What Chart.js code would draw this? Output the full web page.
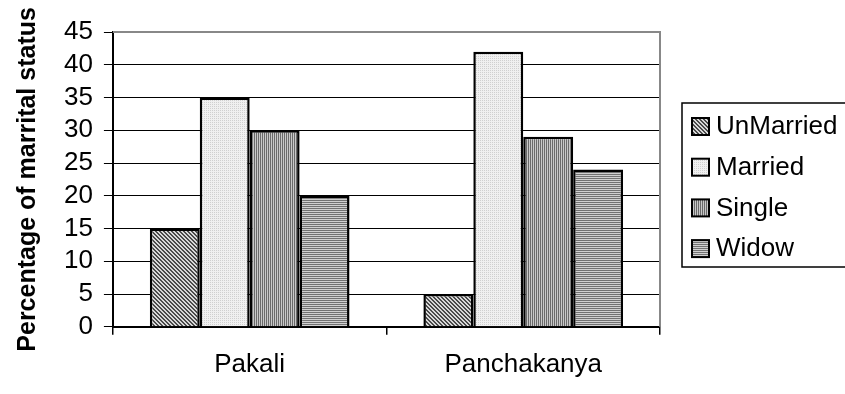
<!DOCTYPE html>
<html>
<head>
<meta charset="utf-8">
<script src="https://cdn.jsdelivr.net/npm/chart.js@4.4.0/dist/chart.umd.min.js"></script>
<style>
  html, body { margin: 0; padding: 0; background: #fff; }
  #wrap { width: 845px; height: 394px; }
</style>
</head>
<body>
<div id="wrap"><canvas id="myChart"></canvas></div>
<script>
// data
const places = ['Pakali', 'Panchakanya'];
const unmarried = [15, 5];
const married = [35, 42];
const single = [30, 29];
const widow = [20, 24];
const seriesNames = ['UnMarried', 'Married', 'Single', 'Widow'];
const yTicks = [0, 5, 10, 15, 20, 25, 30, 35, 40, 45];

const FONT = "'Liberation Sans', Arial, sans-serif";

// little tiles for the hatch fills
function makePattern(kind) {
  const c = document.createElement('canvas');
  c.width = 4; c.height = 4;
  const g = c.getContext('2d');
  if (kind === 'diag') {
    g.fillStyle = '#d8d8d8'; g.fillRect(0, 0, 4, 4);
    g.fillStyle = '#4a4a4a';
    for (let y = 0; y < 4; y++) {
      g.fillRect(y % 4, y, 1, 1);
      g.fillRect((y + 1) % 4, y, 1, 1);
    }
  } else if (kind === 'dots') {
    g.fillStyle = '#f0f0f0'; g.fillRect(0, 0, 4, 4);
    g.fillStyle = '#d0d0d0';
    g.fillRect(0, 0, 1, 1); g.fillRect(2, 2, 1, 1);
    g.fillRect(2, 0, 1, 1); g.fillRect(0, 2, 1, 1);
  } else if (kind === 'vert') {
    g.fillStyle = '#c8c8c8'; g.fillRect(0, 0, 4, 4);
    g.fillStyle = '#6a6a6a';
    g.fillRect(0, 0, 1, 4); g.fillRect(2, 0, 1, 4);
  } else {
    g.fillStyle = '#d0d0d0'; g.fillRect(0, 0, 4, 4);
    g.fillStyle = '#727272';
    g.fillRect(0, 0, 4, 1); g.fillRect(0, 2, 4, 1);
  }
  return g.createPattern(c, 'repeat');
}

const fills = [makePattern('diag'), makePattern('dots'), makePattern('vert'), makePattern('horiz')];
const values = [unmarried, married, single, widow];

// gray plot border on top and right, like the old office charts
const plotFrame = {
  id: 'plotFrame',
  beforeDatasetsDraw(chart) {
    const { ctx, chartArea: a } = chart;
    ctx.save();
    ctx.strokeStyle = '#888';
    ctx.lineWidth = 2;
    ctx.beginPath();
    ctx.moveTo(a.left, a.top);
    ctx.lineTo(a.right, a.top);
    ctx.lineTo(a.right, a.bottom);
    ctx.stroke();
    ctx.restore();
  }
};

// boxed legend on the right
const boxLegend = {
  id: 'boxLegend',
  afterDraw(chart) {
    const ctx = chart.ctx;
    const a = chart.chartArea;
    const left = a.right + 22, top = 103, rowH = 40.7;
    ctx.save();
    ctx.strokeStyle = '#000';
    ctx.lineWidth = 1.5;
    ctx.strokeRect(left, top, chart.width - left + 10, 164);
    ctx.font = '26px ' + FONT;
    ctx.textBaseline = 'middle';
    chart.data.datasets.forEach((ds, i) => {
      const cy = top + 23 + i * rowH;
      ctx.fillStyle = ds.backgroundColor;
      ctx.fillRect(left + 10, cy - 8, 17, 17);
      ctx.strokeStyle = '#000';
      ctx.lineWidth = 2;
      ctx.strokeRect(left + 10, cy - 8, 17, 17);
      ctx.fillStyle = '#000';
      ctx.fillText(ds.label, left + 34, cy + 1);
    });
    ctx.restore();
  }
};

new Chart(document.getElementById('myChart'), {
  type: 'bar',
  data: {
    labels: places,
    datasets: seriesNames.map((name, i) => ({
      label: name,
      data: values[i],
      backgroundColor: fills[i],
      borderColor: '#000',
      borderWidth: 2.5,
      categoryPercentage: 0.73,
      barPercentage: 1.0
    }))
  },
  options: {
    responsive: true,
    maintainAspectRatio: false,
    animation: false,
    layout: { padding: { top: 32, right: 185, bottom: 0, left: 0 } },
    plugins: {
      legend: { display: false },
      tooltip: { enabled: false }
    },
    scales: {
      x: {
        offset: true,
        grid: { offset: true, drawOnChartArea: false, color: '#000', tickLength: 8, lineWidth: 1.5 },
        border: { color: '#000', width: 2 },
        ticks: { color: '#000', font: { family: FONT, size: 26 }, padding: 14 }
      },
      y: {
        min: 0,
        max: 45,
        afterBuildTicks(axis) { axis.ticks = yTicks.map(v => ({ value: v })); },
        grid: { color: '#000', lineWidth: 1, tickLength: 9 },
        border: { color: '#000', width: 2 },
        ticks: { color: '#000', font: { family: FONT, size: 26, lineHeight: 1 }, padding: 11, autoSkip: false },
        title: {
          display: true,
          text: 'Percentage of marrital status',
          color: '#000',
          font: { family: FONT, size: 25, weight: 'bold' },
          padding: { top: 13, bottom: 10 }
        }
      }
    }
  },
  plugins: [plotFrame, boxLegend]
});
</script>
</body>
</html>
